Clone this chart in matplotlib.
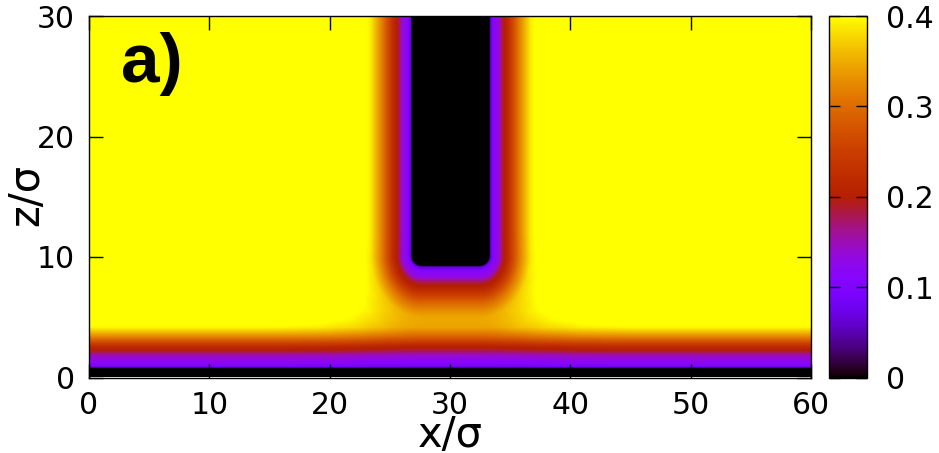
import numpy as np
import matplotlib
matplotlib.use('Agg')
import matplotlib.pyplot as plt

# density profile next to the bottom wall, read along a vertical cut (z, rho)
wall_z   = [0.0, 0.70, 0.78, 0.90, 1.30, 1.80, 2.10, 2.50, 2.90, 3.30, 3.70, 4.10, 4.60, 5.50, 7.00, 9.00, 12.0]
wall_rho = [0.0, 0.0,  0.06, 0.10, 0.125, 0.15, 0.19, 0.22, 0.27, 0.32, 0.36, 0.395, 0.41, 0.43, 0.45, 0.465, 0.47]

# density profile next to the pillar, read along a horizontal cut (distance from pillar edge, rho)
pil_d   = [0.0, 0.02, 0.10, 0.30, 0.80, 1.10, 1.50, 2.00, 2.50, 3.00, 3.40, 3.90, 5.00, 6.50, 9.00, 12.0]
pil_rho = [0.0, 0.05, 0.07, 0.11, 0.14, 0.19, 0.22, 0.27, 0.32, 0.36, 0.39, 0.405, 0.43, 0.45, 0.465, 0.47]

rho_bulk = 0.47

# pillar geometry (x centre, half width, bottom, top, corner radius, stretch of the halo below)
pil_xc, pil_hw, pil_zb, pil_zt, pil_r, pil_sz = 30.05, 3.25, 9.2, 40.0, 0.8, 1.25

xt = [0, 10, 20, 30, 40, 50, 60]
zt = [0, 10, 20, 30]
cbt = [0, 0.1, 0.2, 0.3, 0.4]
cbl = ['0', '0.1', '0.2', '0.3', '0.4']

x = np.arange(0, 60.0001, 0.05)
z = np.arange(0, 30.0001, 0.05)
X, Z = np.meshgrid(x, z)

# signed distance to rounded pillar (halo below the pillar is a bit wider)
Zs = np.where(Z < pil_zb, pil_zb - (pil_zb - Z)/pil_sz, Z)
zc = 0.5*(pil_zb + pil_zt)
hz = 0.5*(pil_zt - pil_zb)
qx = np.abs(X - pil_xc) - (pil_hw - pil_r)
qz = np.abs(Zs - zc) - (hz - pil_r)
d = np.hypot(np.maximum(qx, 0), np.maximum(qz, 0)) + np.minimum(np.maximum(qx, qz), 0) - pil_r

fw = np.interp(Z, wall_z, wall_rho) / rho_bulk
fp = np.interp(d, pil_d, pil_rho) / rho_bulk
fp[d < 0] = 0.0
rho = rho_bulk * fw * fp

fig = plt.figure(figsize=(9.39, 4.53), dpi=100)
ax = fig.add_axes([89/939, (453-377.5)/453, 722/939, 361.5/453])
im = ax.imshow(rho, extent=[0, 60, 0, 30], origin='lower', cmap='gnuplot',
               vmin=0, vmax=0.4, aspect='auto', interpolation='bilinear')
ax.set_xlim(0, 60)
ax.set_ylim(0, 30)
ax.set_xticks(xt)
ax.set_yticks(zt)
ax.tick_params(direction='in', length=10, width=1, top=True, right=True,
               labelsize=21.5, pad=10)
for s in ax.spines.values():
    s.set_linewidth(1)
ax.set_xlabel('x/σ', fontsize=30)
ax.set_ylabel('z/σ', fontsize=30)
ax.xaxis.label.set_va('baseline')
ax.yaxis.label.set_va('baseline')
ax.xaxis.set_label_coords(0.5, -(447-377.5)/361.5)
ax.yaxis.set_label_coords(-(89-38)/722, 0.505)
ax.text(2.66, 24.5, 'a)', fontsize=50, fontweight='bold', family='Liberation Sans',
        ha='left', va='baseline')

cax = fig.add_axes([829/939, (453-377.5)/453, 38/939, 361.5/453])
cb = fig.colorbar(im, cax=cax, ticks=cbt)
cb.ax.set_yticklabels(cbl)
cb.outline.set_linewidth(1)
cax.tick_params(direction='in', length=8, width=1, left=True, right=True,
                labelsize=21.5, pad=14)

fig.savefig('out.png', dpi=100)
